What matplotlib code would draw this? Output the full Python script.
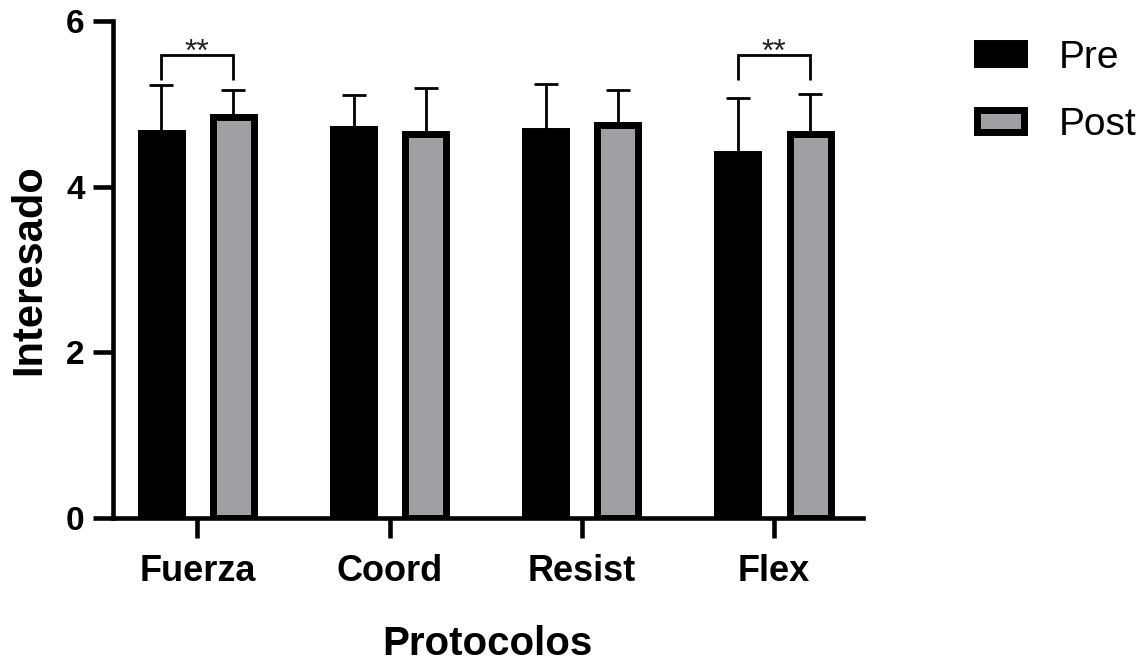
import matplotlib
matplotlib.use("Agg")
import matplotlib.pyplot as plt
import numpy as np
from matplotlib.patches import Patch

categories = ["Fuerza", "Coord", "Resist", "Flex"]
pre_mean = [4.65, 4.69, 4.67, 4.39]
pre_sd = [0.57, 0.42, 0.57, 0.68]
post_mean = [4.84, 4.64, 4.74, 4.64]
post_sd = [0.33, 0.55, 0.42, 0.48]
series_labels = ["Pre", "Post"]
y_ticks = [0, 2, 4, 6]
sig_groups = [0, 3]
sig_text = "**"
sig_bracket_top = 5.59
sig_bracket_bottom = 5.29
sig_text_baseline = 5.52

plt.rcParams['font.family'] = ['Liberation Sans', 'DejaVu Sans']

fig = plt.figure(figsize=(11.47, 6.62), dpi=100)
ax = fig.add_axes([0.0985, 0.2171, 0.7524 - 0.0985, 0.9687 - 0.2171])

x = np.arange(len(categories))
off = 0.1875
w = 0.213
lw_edge = 5.0

ax.errorbar(x - off, pre_mean, yerr=[np.zeros(4), pre_sd], fmt='none', ecolor='black',
            elinewidth=2, capsize=8.6, capthick=2, zorder=1)
ax.errorbar(x + off, post_mean, yerr=[np.zeros(4), post_sd], fmt='none', ecolor='black',
            elinewidth=2, capsize=8.6, capthick=2, zorder=1)
ax.bar(x - off, pre_mean, width=w, color='black', edgecolor='black', linewidth=lw_edge, zorder=2)
ax.bar(x + off, post_mean, width=w, color='#a0a0a4', edgecolor='black', linewidth=lw_edge, zorder=2)

for g in sig_groups:
    x0, x1 = g - off, g + off
    ax.plot([x0, x0, x1, x1], [sig_bracket_bottom, sig_bracket_top, sig_bracket_top, sig_bracket_bottom],
            color='black', lw=2, solid_capstyle='butt', solid_joinstyle='miter', clip_on=False)
    ax.text(g, sig_text_baseline, sig_text, ha='center', va='baseline', fontsize=23,
            color='#222222', zorder=5)

ax.set_xlim(-0.439, 3.463)
ax.set_ylim(0, 6)
ax.set_yticks(y_ticks)
ax.set_xticks(x)
ax.set_xticklabels(categories)
for s in ['top', 'right']:
    ax.spines[s].set_visible(False)
for s in ['left', 'bottom']:
    ax.spines[s].set_linewidth(3.3)
ax.tick_params(axis='both', length=14.4, width=3.3)
ax.tick_params(axis='y', labelsize=24, pad=6)
ax.tick_params(axis='x', labelsize=26, pad=11)
for lab in ax.get_xticklabels() + ax.get_yticklabels():
    lab.set_fontweight('bold')

ax.set_ylabel("Interesado", fontsize=30, fontweight='bold', va='center')
ax.yaxis.set_label_coords(-0.111, 0.5)
ax.set_xlabel("Protocolos", fontsize=29, fontweight='bold', va='center')
ax.xaxis.set_label_coords(0.499, -0.253)

handles = [Patch(facecolor='black', edgecolor='black', linewidth=lw_edge),
           Patch(facecolor='#a0a0a4', edgecolor='black', linewidth=lw_edge)]
fig.legend(handles, series_labels, loc='upper left', bbox_to_anchor=(0.8514, 0.94),
           frameon=False, fontsize=28, handlelength=1.21, handleheight=0.46,
           handletextpad=0.9, labelspacing=0.8, borderaxespad=0, borderpad=0)

fig.savefig("out.png", dpi=100)
